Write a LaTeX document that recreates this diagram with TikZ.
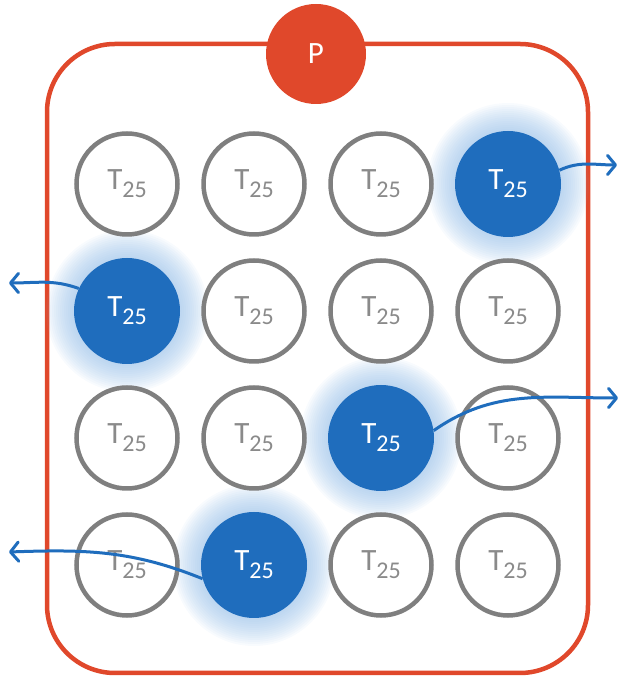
\documentclass[tikz,border=0pt]{standalone}
\usepackage{fontspec}
\setmainfont{Carlito}
\usetikzlibrary{arrows.meta}
\definecolor{pred}{HTML}{E0482B}
\definecolor{pgrey}{HTML}{7F7F7F}
\definecolor{tgrey}{HTML}{8A8A8A}
\definecolor{pblue}{HTML}{1F6DBD}
\definecolor{pglow}{HTML}{8DB9E6}
\newcommand{\tlabel}{T\raisebox{-8pt}{\fontsize{24}{24}\selectfont 25}}
\tikzset{
  tcell/.style={circle, draw=pgrey, line width=4.5pt, fill=white, minimum size=101pt, inner sep=0pt, text=tgrey, font=\fontsize{31}{31}\selectfont},
  bcell/.style={circle, fill=pblue, minimum size=106pt, inner sep=0pt, text=white, font=\fontsize{31}{31}\selectfont},
  pcell/.style={circle, fill=pred, minimum size=100pt, inner sep=0pt, text=white, font=\fontsize{31}{31}\selectfont},
  border/.style={draw=pred, line width=4.5pt, rounded corners=68pt},
  flow/.style={draw=pblue, line width=3pt, -{Straight Barb[length=5pt,width=12pt,scale=1.6,line cap=round,line join=round]}},
  glow/.style={fill=pglow, fill opacity=0.06}
}
\begin{document}
\begin{tikzpicture}[x=1pt,y=1pt]
\useasboundingbox (0,0) rectangle (621,682);
\draw[border] (47,9) rectangle (588,638);
\node[pcell] (p) at (316,628) {P};
% glows
\foreach \gx/\gy in {508/498, 127/371, 381/244, 254/117}
  \foreach \r in {55,57,...,81}
    \fill[glow] (\gx,\gy) circle[radius=\r];
% row 1
\node[tcell] (t11) at (127,498) {\tlabel};
\node[tcell] (t12) at (254,498) {\tlabel};
\node[tcell] (t13) at (381,498) {\tlabel};
\node[bcell] (t14) at (508,498) {\tlabel};
% row 2
\node[bcell] (t21) at (127,371) {\tlabel};
\node[tcell] (t22) at (254,371) {\tlabel};
\node[tcell] (t23) at (381,371) {\tlabel};
\node[tcell] (t24) at (508,371) {\tlabel};
% row 3
\node[tcell] (t31) at (127,244) {\tlabel};
\node[tcell] (t32) at (254,244) {\tlabel};
\node[bcell] (t33) at (381,244) {\tlabel};
\node[tcell] (t34) at (508,244) {\tlabel};
% row 4
\node[tcell] (t41) at (127,117) {\tlabel};
\node[bcell] (t42) at (254,117) {\tlabel};
\node[tcell] (t43) at (381,117) {\tlabel};
\node[tcell] (t44) at (508,117) {\tlabel};
% arrows
\coordinate (e1) at (617,517);
\coordinate (e2) at (9,399);
\coordinate (e3) at (618,284);
\coordinate (e4) at (9,130);
\draw[flow] (t14.15) to[out=25,in=180] (e1);
\draw[flow] (t21.155) to[out=160,in=0] (e2);
\draw[flow] (t33.8) to[out=35,in=180] (e3);
\draw[flow] (t42.195) to[out=158,in=2] (e4);
\end{tikzpicture}
\end{document}
